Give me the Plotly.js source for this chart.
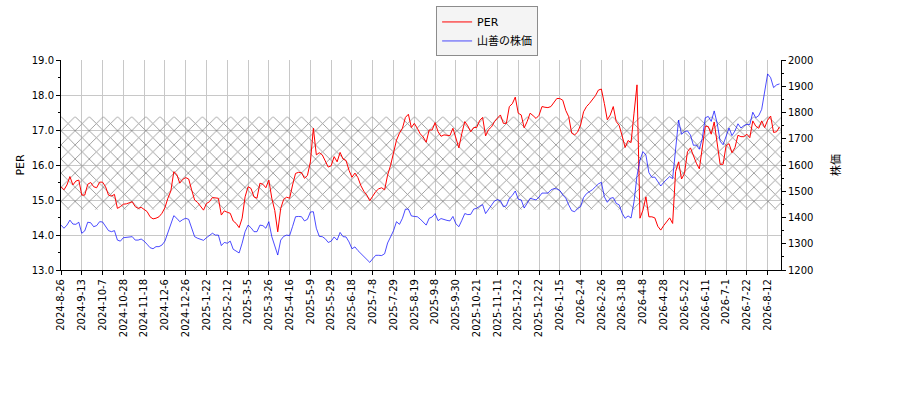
<!DOCTYPE html>
<html>
<head>
<meta charset="utf-8">
<script src="https://cdn.plot.ly/plotly-3.0.1.min.js"></script>
<style>
  html, body { margin: 0; padding: 0; background: #ffffff; }
  #chart { width: 900px; height: 400px; }
</style>
</head>
<body>
<div id="chart"></div>
<script>
// one sample every 2 trading days, starting 2024-8-26
const DAY_STEP = 2;

const TICK_LABELS = [
  '2024-8-26', '2024-9-13', '2024-10-7', '2024-10-28', '2024-11-18', '2024-12-6',
  '2024-12-26', '2025-1-22', '2025-2-12', '2025-3-5', '2025-3-26', '2025-4-16',
  '2025-5-9', '2025-5-29', '2025-6-18', '2025-7-8', '2025-7-29', '2025-8-19',
  '2025-9-8', '2025-9-30', '2025-10-21', '2025-11-11', '2025-12-2', '2025-12-22',
  '2026-1-15', '2026-2-4', '2026-2-26', '2026-3-18', '2026-4-8', '2026-4-28',
  '2026-5-22', '2026-6-11', '2026-7-1', '2026-7-22', '2026-8-12'
];
const TICK_EVERY = 14; // trading days between labels

const PER = [
  15.38, 15.29, 15.43, 15.67, 15.43, 15.54, 15.57, 15.14, 15.14, 15.45,
  15.50, 15.38, 15.35, 15.51, 15.51, 15.38, 15.14, 15.11, 15.16, 14.76,
  14.81, 14.88, 14.89, 14.93, 14.95, 14.81, 14.76, 14.79, 14.74, 14.67,
  14.52, 14.46, 14.48, 14.52, 14.62, 14.78, 15.05, 15.26, 15.81, 15.73,
  15.48, 15.59, 15.64, 15.60, 15.29, 15.00, 14.93, 14.81, 14.71, 14.90,
  14.95, 15.07, 15.05, 15.05, 14.57, 14.69, 14.65, 14.62, 14.40, 14.33,
  14.21, 14.48, 15.09, 15.38, 15.33, 15.09, 15.05, 15.48, 15.45, 15.35,
  15.57, 15.05, 14.70, 14.09, 14.76, 15.02, 15.08, 15.05, 15.43, 15.76,
  15.79, 15.78, 15.62, 15.70, 16.09, 17.05, 16.29, 16.35, 16.29, 16.10,
  15.94, 15.98, 16.24, 16.09, 16.36, 16.17, 16.13, 15.85, 15.65, 15.77,
  15.64, 15.41, 15.25, 15.14, 14.98, 15.11, 15.24, 15.32, 15.35, 15.29,
  15.71, 15.99, 16.33, 16.71, 16.91, 17.05, 17.36, 17.45, 17.07, 17.19,
  17.05, 16.89, 16.80, 16.65, 17.00, 17.00, 17.21, 16.95, 16.82, 16.86,
  16.85, 16.84, 17.05, 16.75, 16.49, 16.90, 17.24, 17.12, 16.95, 17.07,
  17.07, 17.27, 17.36, 16.83, 17.01, 17.09, 17.24, 17.34, 17.43, 17.19,
  17.19, 17.67, 17.75, 17.94, 17.48, 17.43, 17.06, 17.24, 17.48, 17.41,
  17.33, 17.42, 17.67, 17.65, 17.64, 17.67, 17.80, 17.90, 17.90, 17.85,
  17.56, 17.38, 16.91, 16.86, 16.94, 17.14, 17.52, 17.67, 17.76, 17.87,
  17.98, 18.14, 18.17, 17.76, 17.29, 17.43, 17.67, 17.24, 17.13, 16.83,
  16.50, 16.70, 16.64, 17.48, 18.29, 14.48, 14.71, 15.09, 14.52, 14.52,
  14.49, 14.25, 14.14, 14.27, 14.38, 14.49, 14.33, 15.81, 16.09, 15.60,
  15.76, 16.38, 16.49, 16.24, 16.05, 15.89, 16.48, 17.11, 17.10, 16.88,
  17.23, 16.57, 16.02, 16.02, 16.55, 16.61, 16.35, 16.50, 16.85, 16.81,
  16.81, 16.88, 16.78, 17.26, 17.11, 17.05, 17.26, 17.07, 17.28, 17.40,
  16.93, 16.95, 17.09
];

const PRICE = [
  1371, 1359, 1371, 1390, 1375, 1374, 1382, 1340, 1349, 1382,
  1380, 1365, 1369, 1384, 1383, 1365, 1350, 1346, 1350, 1314,
  1310, 1323, 1324, 1326, 1327, 1314, 1314, 1318, 1310, 1298,
  1285, 1281, 1289, 1289, 1295, 1310, 1340, 1369, 1407, 1397,
  1384, 1392, 1397, 1393, 1361, 1327, 1321, 1318, 1313, 1323,
  1331, 1340, 1333, 1333, 1293, 1305, 1302, 1310, 1279, 1272,
  1265, 1302, 1346, 1371, 1361, 1346, 1346, 1371, 1369, 1359,
  1384, 1327, 1295, 1257, 1314, 1328, 1333, 1331, 1366, 1403,
  1404, 1403, 1387, 1393, 1421, 1422, 1359, 1328, 1327, 1319,
  1305, 1310, 1326, 1314, 1343, 1327, 1326, 1307, 1281, 1288,
  1274, 1262, 1251, 1238, 1229, 1243, 1256, 1256, 1255, 1262,
  1303, 1326, 1350, 1384, 1374, 1397, 1432, 1432, 1406, 1404,
  1403, 1394, 1384, 1371, 1397, 1402, 1415, 1388, 1396, 1391,
  1389, 1387, 1404, 1376, 1365, 1389, 1415, 1411, 1412, 1432,
  1435, 1443, 1449, 1415, 1431, 1444, 1463, 1468, 1464, 1441,
  1445, 1473, 1484, 1501, 1470, 1467, 1436, 1454, 1473, 1470,
  1467, 1478, 1493, 1493, 1493, 1505, 1510, 1509, 1503, 1486,
  1474, 1448, 1426, 1422, 1434, 1441, 1476, 1491, 1498, 1506,
  1517, 1528, 1534, 1479, 1458, 1473, 1476, 1454, 1448, 1416,
  1397, 1406, 1398, 1460, 1559, 1619, 1651, 1638, 1571, 1553,
  1554, 1538, 1520, 1534, 1547, 1556, 1548, 1663, 1771, 1717,
  1727, 1730, 1714, 1675, 1676, 1660, 1702, 1780, 1785, 1766,
  1806, 1759, 1691, 1677, 1713, 1741, 1712, 1730, 1757, 1741,
  1750, 1755, 1754, 1801, 1780, 1788, 1812, 1877, 1947, 1933,
  1895, 1905, 1909
];

// shaded PER band
const BAND_LOW = 14.73;
const BAND_HIGH = 17.38;

const COLORS = {
  per: '#ff0000',
  price: 'rgba(0, 0, 255, 0.7)',
  hatch: '#8f8f8f',
  grid: '#c8c8c8',
  axis: '#000000'
};

const FONT = 'DejaVu Sans, "Noto Sans CJK JP", sans-serif';

const days = PER.map((_, i) => i * DAY_STEP);
const lastDay = days[days.length - 1];
const xMax = lastDay + 1;

const traces = [
  {
    x: [0, xMax, xMax, 0, 0],
    y: [BAND_LOW, BAND_LOW, BAND_HIGH, BAND_HIGH, BAND_LOW],
    mode: 'lines',
    fill: 'toself',
    fillcolor: 'rgba(0,0,0,0)',
    fillpattern: {
      shape: 'x',
      size: 10,
      solidity: 0.16,
      fgcolor: COLORS.hatch,
      bgcolor: 'rgba(0,0,0,0)'
    },
    line: { width: 0 },
    hoverinfo: 'skip',
    showlegend: false
  },
  {
    x: days,
    y: PER,
    name: 'PER',
    mode: 'lines',
    line: { color: COLORS.per, width: 1 }
  },
  {
    x: days,
    y: PRICE,
    name: '山善の株価',
    mode: 'lines',
    yaxis: 'y2',
    line: { color: COLORS.price, width: 1 }
  }
];

const layout = {
  width: 900,
  height: 400,
  margin: { l: 61, r: 119, t: 60, b: 130, autoexpand: false },
  paper_bgcolor: '#ffffff',
  plot_bgcolor: '#ffffff',
  font: { family: FONT, size: 10, color: '#000000' },
  showlegend: true,
  legend: {
    x: 0.521,
    y: 1.255,
    xanchor: 'left',
    yanchor: 'top',
    bgcolor: '#f4f4f4',
    bordercolor: '#8c8c8c',
    borderwidth: 1,
    font: { family: FONT, size: 11 },
    tracegroupgap: 0
  },
  xaxis: {
    range: [0, xMax],
    tickmode: 'array',
    tickvals: TICK_LABELS.map((_, j) => j * TICK_EVERY),
    ticktext: TICK_LABELS,
    tickangle: -90,
    tickfont: { size: 10 },
    ticks: 'outside',
    ticklen: 4,
    tickcolor: COLORS.axis,
    showline: true,
    linecolor: COLORS.axis,
    linewidth: 1,
    showgrid: true,
    gridcolor: COLORS.grid,
    gridwidth: 1,
    zeroline: false
  },
  yaxis: {
    title: { text: 'PER', font: { size: 11 }, standoff: 4 },
    range: [13, 19],
    dtick: 1,
    tick0: 13,
    tickformat: '.1f',
    ticks: 'outside',
    ticklen: 4,
    tickcolor: COLORS.axis,
    minor: { dtick: 0.5, ticks: 'outside', ticklen: 2, tickcolor: COLORS.axis, showgrid: false },
    showline: true,
    linecolor: COLORS.axis,
    linewidth: 1,
    showgrid: true,
    gridcolor: COLORS.grid,
    gridwidth: 1,
    zeroline: false
  },
  yaxis2: {
    title: { text: '株価', font: { size: 11 }, standoff: 19 },
    overlaying: 'y',
    side: 'right',
    range: [1200, 2000],
    dtick: 100,
    tick0: 1200,
    ticks: 'outside',
    ticklen: 4,
    tickcolor: COLORS.axis,
    minor: { dtick: 50, ticks: 'outside', ticklen: 2, tickcolor: COLORS.axis, showgrid: false },
    showline: true,
    linecolor: COLORS.axis,
    linewidth: 1,
    showgrid: false,
    zeroline: false
  }
};

Plotly.newPlot('chart', traces, layout, { displayModeBar: false, staticPlot: true });
</script>
</body>
</html>
